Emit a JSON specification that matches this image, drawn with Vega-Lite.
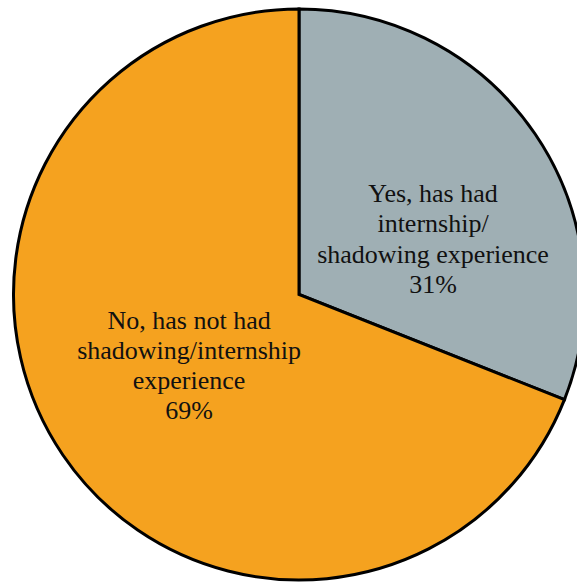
{
  "$schema": "https://vega.github.io/schema/vega-lite/v6.json",
  "width": 598,
  "height": 589,
  "autosize": "none",
  "padding": 0,
  "background": "white",
  "view": {"stroke": null},
  "data": {
    "values": [
      {"category": "Yes, has had internship/shadowing experience", "label": ["Yes, has had", "internship/", "shadowing experience", "31%"], "value": 31, "order": 1},
      {"category": "No, has not had shadowing/internship experience", "label": ["No, has not had", "shadowing/internship", "experience", "69%"], "value": 69, "order": 2}
    ]
  },
  "transform": [
    {"stack": "value", "groupby": [], "sort": [{"field": "order", "order": "ascending"}], "as": ["v0", "v1"]},
    {"calculate": "(datum.v0 + datum.v1) / 2", "as": "vmid"}
  ],
  "layer": [
    {
      "mark": {"type": "arc", "outerRadius": 285.5, "stroke": "black", "strokeWidth": 3},
      "encoding": {
        "theta": {"field": "v0", "type": "quantitative", "scale": {"domain": [0, 100]}},
        "theta2": {"field": "v1"},
        "color": {
          "field": "category",
          "type": "nominal",
          "scale": {
            "domain": ["Yes, has had internship/shadowing experience", "No, has not had shadowing/internship experience"],
            "range": ["#9FAFB4", "#F5A21F"]
          },
          "legend": null
        }
      }
    },
    {
      "transform": [{"filter": "datum.order == 1"}],
      "mark": {"type": "text", "radius": 144.5, "dx": 14.5, "dy": -19.3, "font": "Liberation Serif", "fontSize": 26, "lineHeight": 30.5, "align": "center", "baseline": "middle", "color": "#111111"},
      "encoding": {
        "theta": {"field": "vmid", "type": "quantitative", "scale": {"domain": [0, 100]}},
        "text": {"field": "label"}
      }
    },
    {
      "transform": [{"filter": "datum.order == 2"}],
      "mark": {"type": "text", "radius": 130.5, "dx": -2, "dy": -46.8, "font": "Liberation Serif", "fontSize": 26, "lineHeight": 30, "align": "center", "baseline": "middle", "color": "#111111"},
      "encoding": {
        "theta": {"field": "vmid", "type": "quantitative", "scale": {"domain": [0, 100]}},
        "text": {"field": "label"}
      }
    }
  ]
}
